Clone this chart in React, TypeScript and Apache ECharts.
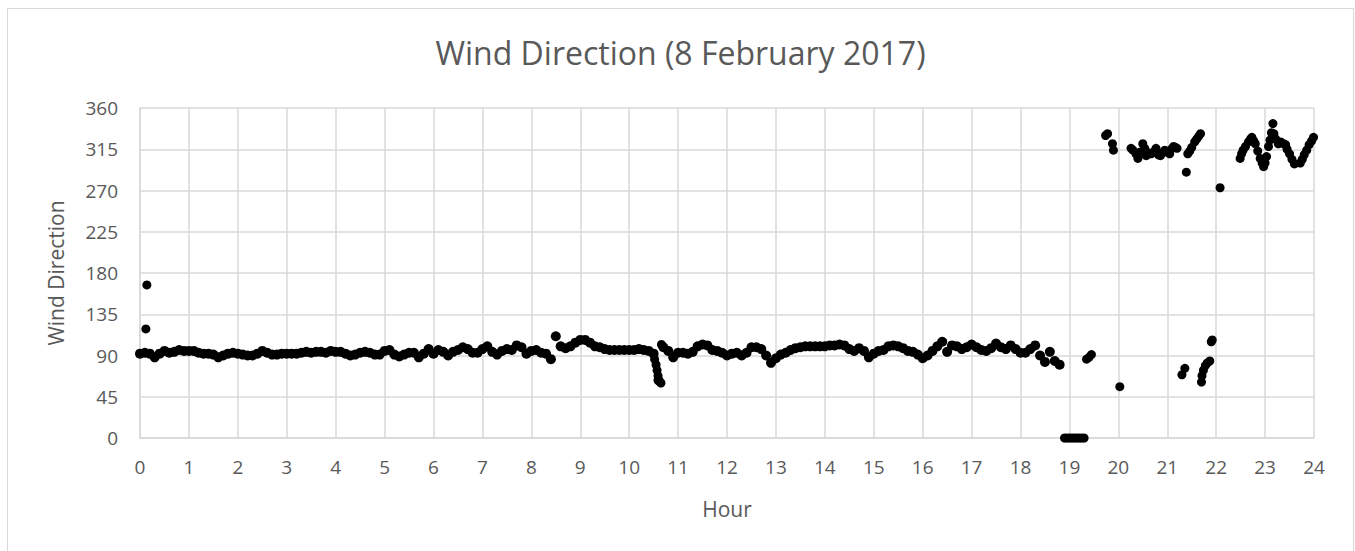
import React, { useEffect, useRef } from "react";
import * as echarts from "echarts";

// Wind direction sampled every 0.1 hour from 0.0 h to 18.8 h
const sampleStartHour = 0;
const sampleStepHour = 0.1;
const directionMain = [
  92, 93, 92, 88, 92, 95, 93, 94, 96, 95,
  95, 95, 93, 92, 92, 91, 88, 90, 92, 93,
  92, 91, 90, 90, 92, 95, 93, 91, 91, 92,
  92, 92, 92, 93, 94, 93, 94, 94, 93, 95,
  94, 94, 92, 90, 91, 93, 94, 93, 91, 91,
  95, 96, 91, 89, 91, 93, 93, 88, 92, 97,
  92, 96, 94, 90, 94, 96, 99, 97, 93, 93,
  97, 100, 94, 91, 95, 97, 96, 101, 99, 92,
  95, 96, 93, 92, 86, 111, 100, 98, 100, 104,
  107, 107, 104, 100, 99, 97, 96, 96, 96, 96,
  96, 96, 97, 96, 95, 92, 63, 99, 95, 88,
  93, 93, 92, 94, 100, 102, 101, 96, 95, 93,
  90, 92, 93, 90, 93, 99, 99, 97, 90, 82,
  87, 91, 93, 96, 98, 99, 100, 100, 100, 100,
  100, 101, 101, 102, 101, 97, 95, 98, 95, 88,
  92, 95, 96, 100, 101, 100, 98, 95, 94, 91,
  87, 90, 95, 100, 105, 94, 101, 100, 97, 99,
  102, 99, 96, 95, 98, 103, 99, 97, 101, 97,
  93, 93, 97, 101, 90, 83, 94, 84, 80,
];

// Extra readings as [hour, direction]
const earlyOutliers = [[0.12, 119], [0.14, 167]];
const morningDrop = [
  [10.52, 86], [10.55, 80], [10.57, 74], [10.59, 68], [10.63, 61], [10.65, 60], [10.66, 102],
];
const calmZeros = [
  [18.9, 0], [18.95, 0], [19.0, 0], [19.05, 0], [19.1, 0], [19.15, 0], [19.2, 0], [19.25, 0], [19.3, 0],
];
const eveningLow = [
  [19.35, 86], [19.4, 88], [19.45, 91],
  [20.03, 56],
  [21.3, 69], [21.36, 76],
  [21.7, 61], [21.71, 68], [21.74, 74], [21.78, 79], [21.82, 82], [21.87, 84],
  [21.9, 105], [21.92, 107],
];
const eveningHigh = [
  [19.74, 330], [19.78, 332], [19.88, 321], [19.9, 314],
  [20.26, 316], [20.3, 314], [20.36, 310], [20.4, 305], [20.45, 312], [20.5, 321],
  [20.54, 316], [20.57, 308], [20.62, 311], [20.67, 310], [20.72, 312], [20.77, 316],
  [20.82, 309], [20.86, 308], [20.9, 311], [20.95, 314], [21.0, 312], [21.05, 310],
  [21.1, 316], [21.13, 318], [21.17, 317], [21.2, 316],
  [21.39, 290],
  [21.42, 310], [21.46, 313], [21.5, 317], [21.56, 323], [21.6, 326], [21.64, 329], [21.68, 332],
  [22.08, 273],
  [22.49, 305], [22.52, 310], [22.55, 314], [22.6, 318], [22.66, 323], [22.7, 326],
  [22.73, 328], [22.77, 324], [22.8, 321], [22.85, 313], [22.9, 305], [22.94, 300],
  [22.97, 296], [23.0, 300], [23.03, 307], [23.07, 318], [23.1, 325], [23.13, 333],
  [23.16, 343], [23.18, 332], [23.22, 326], [23.27, 321], [23.32, 323], [23.38, 321],
  [23.42, 320], [23.45, 315], [23.5, 310], [23.55, 304], [23.6, 299],
  [23.72, 300], [23.76, 304], [23.8, 309], [23.85, 314], [23.9, 320], [23.95, 324], [23.99, 328],
];

const hourTicks = { min: 0, max: 24, interval: 1 };
const directionTicks = { min: 0, max: 360, interval: 45 };

const TEXT = "#595959";
const GRID = "#d9d9d9";
const FONT = "'Open Sans', 'Noto Sans', sans-serif";

export default function App() {
  const ref = useRef<HTMLDivElement>(null);

  useEffect(() => {
    if (!ref.current) return;
    const chart = echarts.init(ref.current, undefined, { renderer: "svg" });
    const mainPoints = directionMain.map((v, i) => [
      +(sampleStartHour + i * sampleStepHour).toFixed(2),
      v,
    ]);
    const sparsePoints = [
      ...earlyOutliers,
      ...morningDrop,
      ...calmZeros,
      ...eveningLow,
      ...eveningHigh,
    ];
    chart.setOption({
      animation: false,
      backgroundColor: "#ffffff",
      title: {
        text: "Wind Direction (8 February 2017)",
        left: "center",
        top: 22,
        textStyle: { color: TEXT, fontSize: 32, fontWeight: "normal", fontFamily: FONT },
      },
      grid: { left: 132, top: 99, width: 1174, height: 330, containLabel: false },
      xAxis: {
        type: "value",
        min: hourTicks.min,
        max: hourTicks.max,
        interval: hourTicks.interval,
        name: "Hour",
        nameLocation: "middle",
        nameGap: 60,
        nameTextStyle: { color: TEXT, fontSize: 21, fontFamily: FONT },
        axisLine: { show: true, lineStyle: { color: GRID, width: 1.5 } },
        axisTick: { show: false },
        axisLabel: { color: TEXT, fontSize: 19, fontFamily: FONT, margin: 19 },
        splitLine: { show: true, lineStyle: { color: GRID, width: 1.5 } },
      },
      yAxis: {
        type: "value",
        min: directionTicks.min,
        max: directionTicks.max,
        interval: directionTicks.interval,
        name: "Wind Direction",
        nameLocation: "middle",
        nameGap: 74,
        nameTextStyle: { color: TEXT, fontSize: 21, fontFamily: FONT },
        axisLine: { show: true, lineStyle: { color: GRID, width: 1.5 } },
        axisTick: { show: false },
        axisLabel: { color: TEXT, fontSize: 19, fontFamily: FONT, margin: 22 },
        splitLine: { show: true, lineStyle: { color: GRID, width: 1.5 } },
      },
      series: [
        {
          type: "scatter",
          name: "Wind Direction",
          data: mainPoints,
          symbol: "circle",
          symbolSize: 10,
          clip: false,
          itemStyle: { color: "#000000", opacity: 1 },
        },
        {
          type: "scatter",
          name: "Wind Direction (sparse)",
          data: sparsePoints,
          symbol: "circle",
          symbolSize: 9,
          clip: false,
          itemStyle: { color: "#000000", opacity: 1 },
        },
      ],
    });
    return () => chart.dispose();
  }, []);

  return (
    <div
      style={{
        position: "absolute",
        left: 7,
        top: 8,
        width: 1347,
        height: 560,
        border: "1px solid #d9d9d9",
        boxSizing: "border-box",
        background: "#fff",
      }}
    >
      <div ref={ref} style={{ width: 1345, height: 558 }} />
    </div>
  );
}
